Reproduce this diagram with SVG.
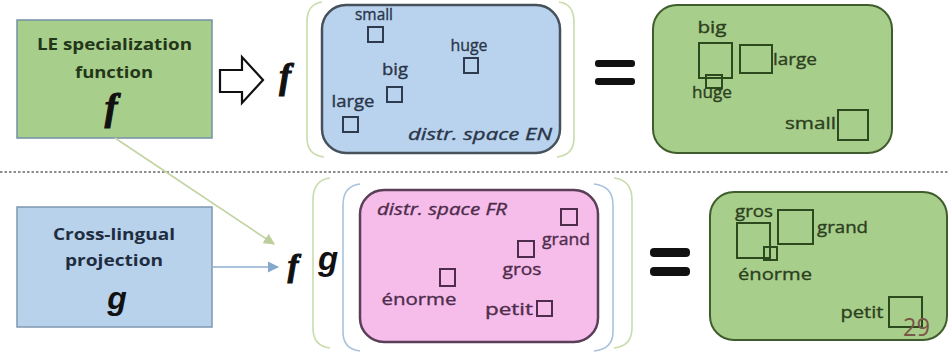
<svg xmlns="http://www.w3.org/2000/svg" width="949" height="352" viewBox="0 0 949 352">
<style>
  text { font-family: "Open Sans", "Liberation Sans", sans-serif; }
  .lbl { font-size: 16px; stroke-width: 0.35px; }
  .bt { font-size: 16px; font-weight: bold; text-anchor: middle; }
  .math { font-family: "Liberation Serif", serif; font-style: italic; font-weight: bold; fill: #111; stroke: #111; stroke-width: 1.1px; }
  .gm { font-family: "Liberation Sans", sans-serif; font-style: italic; font-weight: bold; fill: #111; }
  .en { fill: #2a3548; stroke: #2a3548; }
  .fr { fill: #4e2c4b; stroke: #4e2c4b; }
  .gr { fill: #2c3f20; stroke: #2c3f20; }
  .sqen { fill: none; stroke: #2e3a4e; stroke-width: 2; }
  .sqfr { fill: none; stroke: #4e2c4b; stroke-width: 2; }
  .sqgr { fill: none; stroke: #2c4a1e; stroke-width: 2; }
  .gbox { fill: #a8ce8b; stroke: #3f5c2c; stroke-width: 2; }
  .brg { fill: none; stroke: #c9dcab; stroke-width: 1.6; }
  .brb { fill: none; stroke: #a9c2de; stroke-width: 1.6; }
  .eq { fill: #111; }
</style>
<defs>
  <marker id="ahG" viewBox="0 0 10 10" refX="9" refY="5" markerWidth="7" markerHeight="7" orient="auto">
    <path d="M0,0 L10,5 L0,10 z" fill="#bccf9c"/>
  </marker>
  <marker id="ahB" viewBox="0 0 10 10" refX="9" refY="5" markerWidth="7" markerHeight="7" orient="auto">
    <path d="M0,0 L10,5 L0,10 z" fill="#86a8cc"/>
  </marker>
</defs>
<rect x="0" y="0" width="949" height="352" fill="#ffffff"/>

<!-- separator -->
<line x1="0" y1="172" x2="949" y2="172" stroke="#6a6a6a" stroke-width="1.5" stroke-dasharray="2.5 2"/>

<!-- brackets -->
<g id="brackets">
  <path class="brg" d="M322,2 Q307,4 307,22 L307,138 Q307,155 324,157"/>
  <path class="brg" d="M559,2 Q574,4 574,22 L574,138 Q574,155 557,157"/>
  <path class="brg" d="M330,178 Q313,180 313,200 L313,328 Q313,346 330,348"/>
  <path class="brg" d="M614,178 Q632,180 632,200 L632,328 Q632,346 614,348"/>
  <path class="brb" d="M360,184 Q343,186 343,205 L343,332 Q343,349 360,351"/>
  <path class="brb" d="M594,184 Q613,186 613,205 L613,332 Q613,349 594,351"/>
</g>

<!-- LE specialization box -->
<g id="le-box">
  <rect x="17" y="20" width="195" height="118" fill="#a8ce8b" stroke="#7590a6" stroke-width="1.5"/>
  <text class="bt" x="114.5" y="50" fill="#24361a" textLength="155" lengthAdjust="spacingAndGlyphs">LE specialization</text>
  <text class="bt" x="114" y="78" fill="#24361a" textLength="78" lengthAdjust="spacingAndGlyphs">function</text>
  <text class="math" x="111" y="120" font-size="38" text-anchor="middle">f</text>
</g>

<!-- Cross-lingual box -->
<g id="cl-box">
  <rect x="17" y="207" width="195" height="120" fill="#b8d2ec" stroke="#7f98b0" stroke-width="1.5"/>
  <text class="bt" x="114" y="240" fill="#1f2d40" textLength="122" lengthAdjust="spacingAndGlyphs">Cross-lingual</text>
  <text class="bt" x="114" y="266" fill="#1f2d40" textLength="98" lengthAdjust="spacingAndGlyphs">projection</text>
  <text class="gm" x="117" y="309" font-size="32" text-anchor="middle">g</text>
</g>

<!-- hollow arrow and f -->
<g id="arrow-f">
  <path d="M220,70 L242,70 L242,57 L263,80 L242,103 L242,92 L220,92 Z" fill="#ffffff" stroke="#111" stroke-width="2.2" stroke-linejoin="miter"/>
  <text class="math" x="285" y="88" font-size="35" text-anchor="middle">f</text>
</g>

<!-- EN space -->
<g id="en-space">
  <rect x="322" y="5" width="238" height="148" rx="24" fill="#b9d3ee" stroke="#47515c" stroke-width="2.5"/>
  <text class="lbl en" x="374" y="20" text-anchor="middle" textLength="38" lengthAdjust="spacingAndGlyphs">small</text>
  <rect class="sqen" x="368" y="27" width="15" height="15"/>
  <text class="lbl en" x="469" y="51" text-anchor="middle" textLength="37" lengthAdjust="spacingAndGlyphs">huge</text>
  <rect class="sqen" x="464" y="58" width="14" height="15"/>
  <text class="lbl en" x="395" y="75" text-anchor="middle" textLength="26" lengthAdjust="spacingAndGlyphs">big</text>
  <rect class="sqen" x="387" y="87" width="15" height="15"/>
  <text class="lbl en" x="353" y="107" text-anchor="middle" textLength="43" lengthAdjust="spacingAndGlyphs">large</text>
  <rect class="sqen" x="343" y="117" width="15" height="15"/>
  <text class="lbl en" x="552" y="140" text-anchor="end" font-style="italic" textLength="144" lengthAdjust="spacingAndGlyphs">distr. space EN</text>
</g>

<!-- equals top -->
<g id="eq-top">
  <rect class="eq" x="595" y="60" width="40" height="7" rx="3"/>
  <rect class="eq" x="595" y="78" width="40" height="7" rx="3"/>
</g>

<!-- result EN -->
<g id="en-result">
  <rect class="gbox" x="653" y="5" width="239" height="148" rx="24"/>
  <text class="lbl gr" x="712" y="33" text-anchor="middle" textLength="29" lengthAdjust="spacingAndGlyphs">big</text>
  <rect class="sqgr" x="699" y="43" width="33" height="35"/>
  <rect class="sqgr" x="740" y="45" width="32" height="28"/>
  <text class="lbl gr" x="773" y="65" textLength="44" lengthAdjust="spacingAndGlyphs">large</text>
  <rect class="sqgr" x="706" y="75" width="16" height="13"/>
  <text class="lbl gr" x="712" y="98" text-anchor="middle" textLength="40" lengthAdjust="spacingAndGlyphs">huge</text>
  <text class="lbl gr" x="836" y="129" text-anchor="end" textLength="51" lengthAdjust="spacingAndGlyphs">small</text>
  <rect class="sqgr" x="838" y="110" width="30" height="30"/>
</g>

<!-- connectors -->
<g id="connectors">
  <line x1="115" y1="138" x2="274" y2="244" stroke="#c2d4a4" stroke-width="1.6" marker-end="url(#ahG)"/>
  <line x1="213" y1="267" x2="278" y2="267" stroke="#8eaed0" stroke-width="1.6" marker-end="url(#ahB)"/>
</g>

<!-- f g bottom -->
<g id="fg">
  <text class="math" x="293" y="276" font-size="32" text-anchor="middle">f</text>
  <text class="gm" x="328" y="270" font-size="33" text-anchor="middle">g</text>
</g>

<!-- FR space -->
<g id="fr-space">
  <rect x="360" y="190" width="238" height="152" rx="24" fill="#f6bdea" stroke="#5a3f58" stroke-width="2.5"/>
  <text class="lbl fr" x="377" y="215" font-style="italic" textLength="130" lengthAdjust="spacingAndGlyphs">distr. space FR</text>
  <rect class="sqfr" x="561" y="209" width="16" height="16"/>
  <text class="lbl fr" x="542" y="245" textLength="48" lengthAdjust="spacingAndGlyphs">grand</text>
  <rect class="sqfr" x="518" y="241" width="16" height="16"/>
  <text class="lbl fr" x="522" y="275" text-anchor="middle" textLength="39" lengthAdjust="spacingAndGlyphs">gros</text>
  <rect class="sqfr" x="440" y="269" width="15" height="17"/>
  <text class="lbl fr" x="419" y="305" text-anchor="middle" textLength="75" lengthAdjust="spacingAndGlyphs">énorme</text>
  <text class="lbl fr" x="509" y="315" text-anchor="middle" textLength="48" lengthAdjust="spacingAndGlyphs">petit</text>
  <rect class="sqfr" x="537" y="301" width="15" height="15"/>
</g>

<!-- equals bottom -->
<g id="eq-bottom">
  <rect class="eq" x="650" y="248" width="40" height="9" rx="4"/>
  <rect class="eq" x="650" y="267" width="40" height="9" rx="4"/>
</g>

<!-- result FR -->
<g id="fr-result">
  <rect class="gbox" x="710" y="192" width="237" height="148" rx="24"/>
  <text class="lbl gr" x="754" y="217" text-anchor="middle" textLength="38" lengthAdjust="spacingAndGlyphs">gros</text>
  <rect class="sqgr" x="737" y="223" width="33" height="35"/>
  <rect class="sqgr" x="778" y="210" width="35" height="34"/>
  <text class="lbl gr" x="817" y="233" textLength="51" lengthAdjust="spacingAndGlyphs">grand</text>
  <rect class="sqgr" x="764" y="247" width="13" height="13"/>
  <text class="lbl gr" x="775" y="280" text-anchor="middle" textLength="74" lengthAdjust="spacingAndGlyphs">énorme</text>
  <text class="lbl gr" x="862" y="318" text-anchor="middle" textLength="43" lengthAdjust="spacingAndGlyphs">petit</text>
  <rect class="sqgr" x="889" y="297" width="33" height="30"/>
  <text x="903" y="336" font-family="Liberation Sans, sans-serif" font-size="25" fill="#7a5646" textLength="27" lengthAdjust="spacingAndGlyphs">29</text>
</g>
</svg>
